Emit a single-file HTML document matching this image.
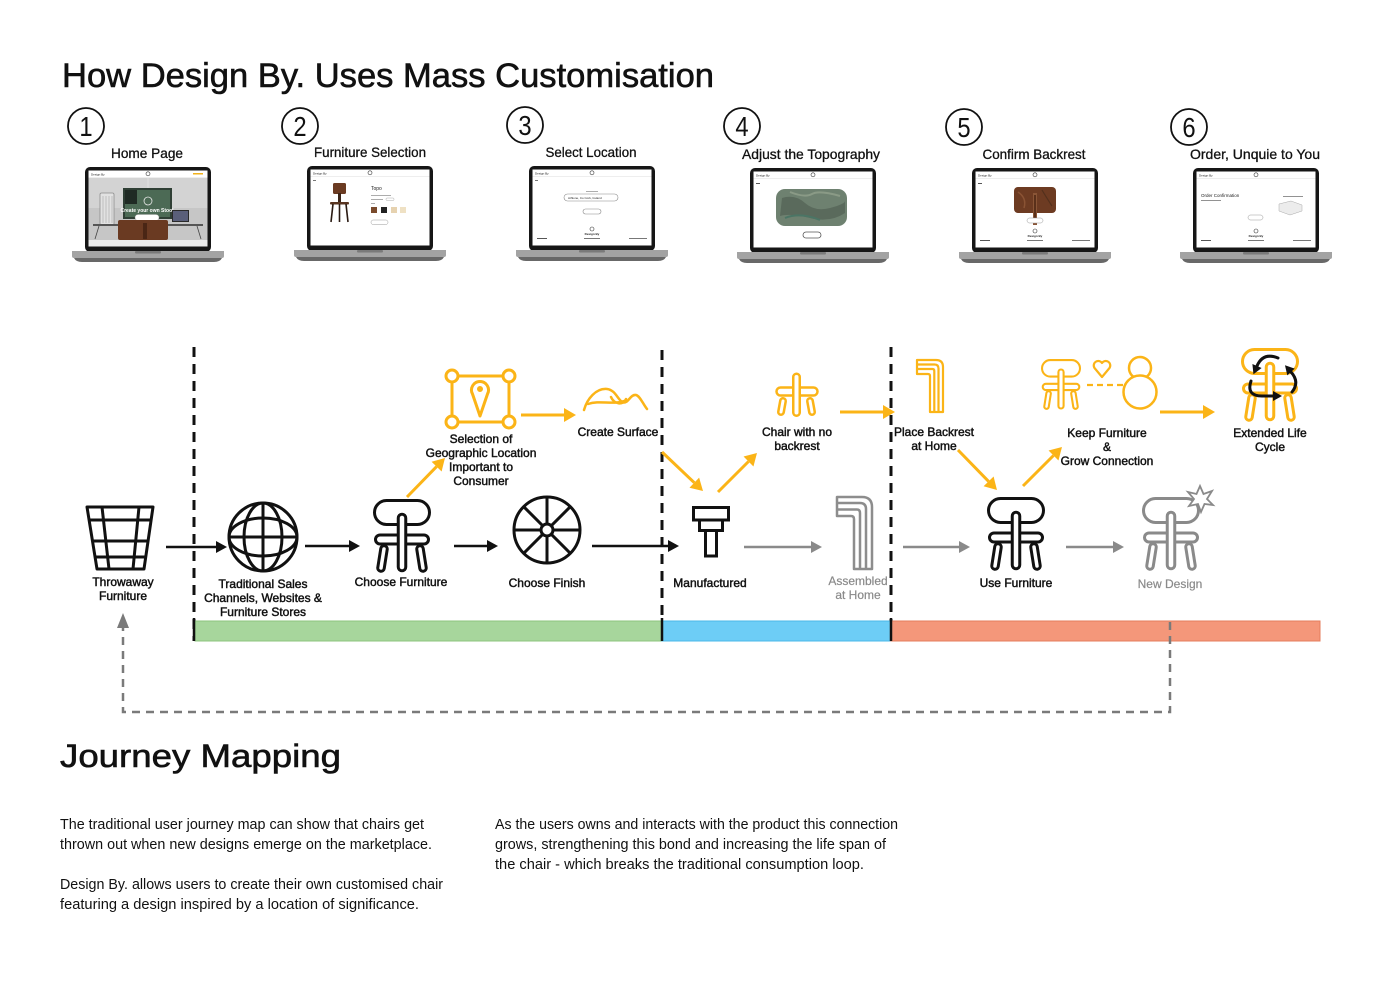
<!DOCTYPE html>
<html>
<head>
<meta charset="utf-8">
<style>
  html,body{margin:0;padding:0;background:#fff;}
  body{width:1400px;height:990px;overflow:hidden;}
  svg{display:block;}
  .t{font-family:"Liberation Sans",sans-serif;}
  .l{font-family:"Liberation Sans",sans-serif;font-size:12px;text-anchor:middle;fill:#111;stroke:#111;stroke-width:0.45px;}
  .g{fill:#8a8a8a;stroke:#8a8a8a;stroke-width:0.2px;}
  .p{font-family:"Liberation Sans",sans-serif;font-size:14.5px;fill:#111;}
  .s{font-family:"Liberation Sans",sans-serif;font-size:14px;text-anchor:middle;fill:#111;stroke:#111;stroke-width:0.3px;}
  .n{font-family:"Liberation Sans",sans-serif;font-size:28px;text-anchor:middle;fill:#111;}
  .tiny{font-family:"Liberation Sans",sans-serif;fill:#222;}
</style>
</head>
<body>
<svg width="1400" height="990" viewBox="0 0 1400 990" xmlns="http://www.w3.org/2000/svg">
<defs>
  <marker id="mk" markerWidth="12" markerHeight="12" refX="0" refY="6" orient="auto" markerUnits="userSpaceOnUse" overflow="visible">
    <path d="M0,0 L11,6 L0,12 Z" fill="#111"/>
  </marker>
  <marker id="mg" markerWidth="12" markerHeight="12" refX="0" refY="6" orient="auto" markerUnits="userSpaceOnUse" overflow="visible">
    <path d="M0,0 L11,6 L0,12 Z" fill="#8a8a8a"/>
  </marker>
  <marker id="my" markerWidth="14" markerHeight="14" refX="0" refY="7" orient="auto" markerUnits="userSpaceOnUse" overflow="visible">
    <path d="M0,0 L12,7 L0,14 Z" fill="#fbb417"/>
  </marker>
  <marker id="mr" markerWidth="10" markerHeight="10" refX="0" refY="5" orient="auto" markerUnits="userSpaceOnUse" overflow="visible">
    <path d="M0,0 L9,5 L0,10 Z" fill="#111"/>
  </marker>

  <g id="ch">
    <line x1="11" y1="50" x2="8" y2="69" stroke="currentColor" stroke-width="9.5" stroke-linecap="round"/>
    <line x1="11" y1="50" x2="8" y2="69" stroke="#fff" stroke-width="3.5" stroke-linecap="round"/>
    <line x1="47" y1="50" x2="50" y2="69" stroke="currentColor" stroke-width="9.5" stroke-linecap="round"/>
    <line x1="47" y1="50" x2="50" y2="69" stroke="#fff" stroke-width="3.5" stroke-linecap="round"/>
    <rect x="2.5" y="36" width="53" height="9" rx="4.5" fill="#fff" stroke="currentColor" stroke-width="3"/>
    <rect x="1.5" y="1.5" width="55" height="24" rx="12" fill="#fff" stroke="currentColor" stroke-width="3"/>
    <line x1="29" y1="19" x2="29" y2="68" stroke="currentColor" stroke-width="10.5" stroke-linecap="round"/>
    <line x1="29" y1="19" x2="29" y2="68" stroke="#fff" stroke-width="4.5" stroke-linecap="round"/>
  </g>

  <g id="lap">
    <rect x="0" y="0" width="126" height="85" rx="5" fill="#161616"/>
    <rect x="3.5" y="3.5" width="119" height="76" fill="#fff"/>
    <path d="M-13,84 H139 V89 Q139,91 137,91 H-11 Q-13,91 -13,89 Z" fill="#a3a3a3"/>
    <path d="M-11,91 H137 Q135,95 129,95 H-3 Q-9,95 -11,91 Z" fill="#686868"/>
    <rect x="50" y="84" width="26" height="2.5" rx="1" fill="#7a7a7a"/>
    <text class="tiny" x="6" y="8.5" font-size="3">Design By</text>
    <circle cx="63" cy="6.8" r="2" fill="none" stroke="#333" stroke-width="0.6"/>
    <line x1="3.5" y1="10.5" x2="122.5" y2="10.5" stroke="#ddd" stroke-width="0.6"/>
  </g>
  <g id="foot">
    <circle cx="63" cy="63" r="2" fill="none" stroke="#333" stroke-width="0.6"/>
    <text class="tiny" x="63" y="69" font-size="3" text-anchor="middle" font-weight="bold">Design By</text>
    <rect x="8" y="72" width="10" height="1" fill="#555"/>
    <rect x="55" y="72" width="16" height="1" fill="#777"/>
    <rect x="100" y="72" width="18" height="1" fill="#777"/>
  </g>
</defs>

<!-- Title -->
<text class="t" x="62" y="87" font-size="34" textLength="652" lengthAdjust="spacingAndGlyphs" fill="#111" stroke="#111" stroke-width="0.6">How Design By. Uses Mass Customisation</text>

<!-- Numbers -->
<g fill="none" stroke="#111" stroke-width="1.8">
  <circle cx="86" cy="126" r="18"/>
  <circle cx="300" cy="126" r="18"/>
  <circle cx="525" cy="125" r="18"/>
  <circle cx="742" cy="126" r="18"/>
  <circle cx="964" cy="127" r="18"/>
  <circle cx="1189" cy="127" r="18"/>
</g>
<g transform="translate(86,136) scale(0.85,1)"><text class="n" x="0" y="0">1</text></g>
<g transform="translate(300,136) scale(0.85,1)"><text class="n" x="0" y="0">2</text></g>
<g transform="translate(525,135) scale(0.85,1)"><text class="n" x="0" y="0">3</text></g>
<g transform="translate(742,136) scale(0.85,1)"><text class="n" x="0" y="0">4</text></g>
<g transform="translate(964,137) scale(0.85,1)"><text class="n" x="0" y="0">5</text></g>
<g transform="translate(1189,137) scale(0.85,1)"><text class="n" x="0" y="0">6</text></g>

<text class="s" x="147" y="158" textLength="72" lengthAdjust="spacingAndGlyphs">Home Page</text>
<text class="s" x="370" y="157" textLength="112" lengthAdjust="spacingAndGlyphs">Furniture Selection</text>
<text class="s" x="591" y="157" textLength="91" lengthAdjust="spacingAndGlyphs">Select Location</text>
<text class="s" x="811" y="159" textLength="138" lengthAdjust="spacingAndGlyphs">Adjust the Topography</text>
<text class="s" x="1034" y="159" textLength="103" lengthAdjust="spacingAndGlyphs">Confirm Backrest</text>
<text class="s" x="1255" y="159" textLength="130" lengthAdjust="spacingAndGlyphs">Order, Unquie to You</text>

<!-- Laptop 1 -->
<g transform="translate(85,167)">
  <use href="#lap"/>
  <rect x="3.5" y="11" width="119" height="62" fill="#c6c6c6"/>
  <rect x="3.5" y="11" width="119" height="30" fill="#d3d3d3"/>
  <line x1="63" y1="11" x2="63" y2="56" stroke="#e6e6e6" stroke-width="0.8"/>
  <rect x="15" y="26" width="14" height="32" rx="1.5" fill="#e2e2e2" stroke="#8d8d8d" stroke-width="0.8"/>
  <g stroke="#9a9a9a" stroke-width="0.5"><line x1="18" y1="29" x2="18" y2="56"/><line x1="21" y1="29" x2="21" y2="56"/><line x1="24" y1="29" x2="24" y2="56"/><line x1="27" y1="29" x2="27" y2="56"/></g>
  <rect x="38" y="21" width="49" height="31" fill="#2f3f35"/>
  <rect x="40" y="23" width="45" height="27" fill="#4c6a55"/>
  <rect x="40" y="23" width="12" height="14" fill="#1f2a24"/>
  <circle cx="63" cy="34" r="4" fill="none" stroke="#e8e8e8" stroke-width="0.8"/>
  <text class="tiny" x="62" y="45" font-size="5" text-anchor="middle" font-weight="bold" style="fill:#fff">Create your own Stool</text>
  <rect x="50" y="47.5" width="24" height="6" rx="3" fill="#fff" stroke="#999" stroke-width="0.4"/>
  <rect x="87" y="43" width="17" height="12" fill="#2a2a2a"/>
  <rect x="88" y="44" width="15" height="10" fill="#5a5f7a"/>
  <rect x="8" y="57" width="110" height="2" fill="#555"/>
  <line x1="14" y1="59" x2="10" y2="72" stroke="#444" stroke-width="0.8"/>
  <line x1="112" y1="59" x2="116" y2="72" stroke="#444" stroke-width="0.8"/>
  <rect x="33" y="53" width="50" height="20" rx="2" fill="#6a3a22"/>
  <rect x="58" y="56" width="4" height="16" fill="#4a2615"/>
  <rect x="3.5" y="73" width="119" height="6.5" fill="#ececec"/>
  <rect x="108" y="6" width="10" height="1.5" fill="#f2b21c"/>
</g>

<!-- Laptop 2 -->
<g transform="translate(307,166)">
  <use href="#lap"/>
  <rect x="6" y="14" width="3" height="1" fill="#777"/>
  <rect x="26" y="17" width="13" height="11" rx="1.5" fill="#6b3b22"/>
  <rect x="31" y="27" width="3" height="10" fill="#3a2418"/>
  <rect x="23" y="36" width="19" height="2.5" rx="1" fill="#5a3520"/>
  <line x1="26" y1="38" x2="24" y2="56" stroke="#2a1a12" stroke-width="1.6"/>
  <line x1="39" y1="38" x2="41" y2="56" stroke="#2a1a12" stroke-width="1.6"/>
  <line x1="32.5" y1="38" x2="32.5" y2="56" stroke="#2a1a12" stroke-width="1.6"/>
  <text class="tiny" x="64" y="24" font-size="5">Topo</text>
  <rect x="64" y="29" width="20" height="0.8" fill="#999"/>
  <rect x="64" y="33" width="12" height="0.8" fill="#999"/>
  <rect x="79" y="32" width="8" height="2.5" rx="1" fill="none" stroke="#999" stroke-width="0.4"/>
  <rect x="64" y="37" width="4" height="0.8" fill="#999"/>
  <rect x="64" y="41" width="6" height="6" fill="#7a4a2c"/>
  <rect x="74" y="41" width="6" height="6" fill="#222"/>
  <rect x="84" y="41" width="6" height="6" fill="#e6d2b0"/>
  <rect x="93" y="41" width="6" height="6" fill="#efe1c4"/>
  <rect x="64" y="54" width="17" height="4.5" rx="2.2" fill="#fff" stroke="#999" stroke-width="0.5"/>
</g>

<!-- Laptop 3 -->
<g transform="translate(529,166)">
  <use href="#lap"/>
  <rect x="6" y="14" width="3" height="1" fill="#777"/>
  <rect x="57" y="25" width="12" height="0.8" fill="#999"/>
  <rect x="35" y="28" width="54" height="7" rx="3.5" fill="#fff" stroke="#888" stroke-width="0.6"/>
  <text class="tiny" x="39" y="33" font-size="3">Athlone, Co Cork, Ireland</text>
  <rect x="54" y="43" width="18" height="5" rx="2.5" fill="#fff" stroke="#888" stroke-width="0.6"/>
  <use href="#foot"/>
</g>

<!-- Laptop 4 -->
<g transform="translate(750,168)">
  <use href="#lap"/>
  <rect x="6" y="15" width="4" height="1" fill="#555"/>
  <rect x="26" y="21" width="71" height="37" rx="9" fill="#6e8170"/>
  <path d="M32,30 Q45,26 55,35 T80,40 T95,33 V45 Q80,55 60,50 T30,48 Z" fill="#5a6a5c"/>
  <path d="M40,24 Q55,30 62,26 T90,28" stroke="#8a9a86" stroke-width="2" fill="none"/>
  <path d="M35,50 Q50,44 70,52" stroke="#4b7565" stroke-width="2" fill="none"/>
  <rect x="53" y="64" width="18" height="6" rx="3" fill="#fff" stroke="#555" stroke-width="0.8"/>
</g>

<!-- Laptop 5 -->
<g transform="translate(972,168)">
  <use href="#lap"/>
  <rect x="6" y="15" width="4" height="1" fill="#555"/>
  <rect x="42" y="19" width="42" height="26" rx="4" fill="#6d3b22"/>
  <path d="M46,24 Q55,30 52,40" stroke="#8a5334" stroke-width="1.5" fill="none"/>
  <path d="M70,22 Q76,32 80,38" stroke="#53301c" stroke-width="1.2" fill="none"/>
  <rect x="61" y="25" width="4" height="32" fill="#8a5536"/>
  <rect x="62" y="27" width="2" height="28" fill="#5a301a"/>
  <rect x="55" y="50" width="16" height="5" rx="2.5" fill="#fff" stroke="#999" stroke-width="0.5"/>
  <use href="#foot"/>
</g>

<!-- Laptop 6 -->
<g transform="translate(1193,168)">
  <use href="#lap"/>
  <text class="tiny" x="8" y="29" font-size="4.5">Order Confirmation</text>
  <rect x="8" y="32" width="20" height="0.8" fill="#777"/>
  <rect x="90" y="28" width="20" height="0.8" fill="#777"/>
  <path d="M86,36 L98,33 L109,37 L109,43 L97,47 L86,43 Z" fill="#ececec" stroke="#aaa" stroke-width="0.5"/>
  <rect x="55" y="47" width="15" height="5" rx="2.5" fill="#fff" stroke="#999" stroke-width="0.5"/>
  <use href="#foot"/>
</g>

<!-- Vertical dashed dividers -->
<g stroke="#111" stroke-width="3" stroke-dasharray="10 7">
  <line x1="194" y1="347" x2="194" y2="641"/>
  <line x1="662" y1="350" x2="662" y2="641"/>
  <line x1="891" y1="347" x2="891" y2="641"/>
</g>

<!-- Phase bar -->
<rect x="195" y="621" width="467" height="20" fill="#a7d69c" stroke="#8cc47e" stroke-width="1"/>
<rect x="662" y="621" width="229" height="20" fill="#6dcdf6" stroke="#4ab8e8" stroke-width="1"/>
<rect x="891" y="621" width="429" height="20" fill="#f4977a" stroke="#e57c5c" stroke-width="1"/>
<g stroke="#111" stroke-width="2.5">
  <line x1="194" y1="618" x2="194" y2="641"/>
  <line x1="662" y1="618" x2="662" y2="641"/>
  <line x1="891" y1="618" x2="891" y2="641"/>
</g>

<!-- Grey dashed loop -->
<path d="M1170,622 V712 H123 V628" fill="none" stroke="#7a7a7a" stroke-width="2.5" stroke-dasharray="8 6"/>
<polygon points="117,628 129,628 123,613" fill="#7a7a7a"/>

<!-- Throwaway basket -->
<g fill="none" stroke="#111" stroke-width="3" stroke-linejoin="round">
  <polygon points="87,507 153,507 144,569 97,569"/>
  <line x1="102" y1="507" x2="109" y2="569"/>
  <line x1="139" y1="507" x2="133" y2="569"/>
  <line x1="90" y1="520" x2="151" y2="520"/>
  <line x1="92" y1="541" x2="148" y2="541"/>
  <line x1="95" y1="557" x2="146" y2="557"/>
</g>
<text class="l" x="123" y="586">Throwaway</text>
<text class="l" x="123" y="600">Furniture</text>

<!-- Globe -->
<g fill="none" stroke="#111" stroke-width="3">
  <circle cx="263" cy="537" r="34"/>
  <ellipse cx="263" cy="537" rx="19" ry="34"/>
  <ellipse cx="263" cy="537" rx="34" ry="19"/>
  <line x1="263" y1="503" x2="263" y2="571"/>
  <line x1="229" y1="537" x2="297" y2="537"/>
</g>
<text class="l" x="263" y="588">Traditional Sales</text>
<text class="l" x="263" y="602">Channels, Websites &amp;</text>
<text class="l" x="263" y="616">Furniture Stores</text>

<!-- Choose furniture chair -->
<use href="#ch" x="373" y="499" style="color:#111"/>
<text class="l" x="401" y="586">Choose Furniture</text>

<!-- Wheel -->
<g fill="none" stroke="#111" stroke-width="3">
  <circle cx="547" cy="530" r="33"/>
  <line x1="547" y1="497" x2="547" y2="524"/>
  <line x1="547" y1="536" x2="547" y2="563"/>
  <line x1="514" y1="530" x2="541" y2="530"/>
  <line x1="553" y1="530" x2="580" y2="530"/>
  <line x1="523.7" y1="506.7" x2="542.8" y2="525.8"/>
  <line x1="551.2" y1="534.2" x2="570.3" y2="553.3"/>
  <line x1="570.3" y1="506.7" x2="551.2" y2="525.8"/>
  <line x1="542.8" y1="534.2" x2="523.7" y2="553.3"/>
  <circle cx="547" cy="530" r="6" fill="#fff"/>
</g>
<text class="l" x="547" y="587">Choose Finish</text>

<!-- Manufactured -->
<g fill="#fff" stroke="#111" stroke-width="3">
  <rect x="705.5" y="530" width="11" height="26"/>
  <rect x="699.5" y="519.5" width="23" height="11"/>
  <rect x="693.5" y="507.5" width="35" height="12.5"/>
</g>
<text class="l" x="710" y="587">Manufactured</text>

<!-- Assembled at home (grey L) -->
<g fill="none" stroke="#8d8d8d" stroke-width="2.5" stroke-linejoin="round">
  <path d="M837,497 H862 Q872,497 872,507 V569 H854 V519 Q854,516 851,516 H837 Z"/>
  <path d="M837,503 H860 Q866,503 866,509 V569"/>
  <path d="M837,509.5 H857 Q860,509.5 860,513 V569"/>
</g>
<text class="l g" x="858" y="585">Assembled</text>
<text class="l g" x="858" y="599">at Home</text>

<!-- Use furniture chair -->
<use href="#ch" x="987" y="497" style="color:#111"/>
<text class="l" x="1016" y="587">Use Furniture</text>

<!-- New design chair -->
<use href="#ch" x="1142" y="497" style="color:#8a8a8a"/>
<polygon points="1200,486 1203.5,494 1212,491 1207,499 1213,505 1204.5,504 1201,512 1198,504 1189,506 1194,499 1188,492 1196.5,494" fill="#fff" stroke="#8a8a8a" stroke-width="1.8" stroke-linejoin="miter"/>
<text class="l g" x="1170" y="588">New Design</text>

<!-- Location icon -->
<g fill="none" stroke="#fbb417" stroke-width="3">
  <rect x="452" y="376" width="57" height="46"/>
  <circle cx="452" cy="376" r="6" fill="#fff"/>
  <circle cx="509" cy="376" r="6" fill="#fff"/>
  <circle cx="452" cy="422" r="6" fill="#fff"/>
  <circle cx="509" cy="422" r="6" fill="#fff"/>
  <path d="M480,416 L472.5,394 A8.5,8.5 0 1 1 487.5,394 Z" stroke-linejoin="round"/>
  <circle cx="480" cy="389" r="1.5" fill="#fbb417"/>
</g>
<text class="l" x="481" y="443">Selection of</text>
<text class="l" x="481" y="457">Geographic Location</text>
<text class="l" x="481" y="471">Important to</text>
<text class="l" x="481" y="485">Consumer</text>

<!-- Create surface -->
<g fill="none" stroke="#fbb417" stroke-width="2.5" stroke-linecap="round" stroke-linejoin="round">
  <path d="M584,410 C587,399 596,388 607,389 C615,390 617,398 622,402 C628,405 630,394 636,395 C640,396 643,404 647,409"/>
  <path d="M588,404 C600,400 612,405 624,401"/>
  <path d="M611,397 C614,404 623,406 626,399"/>
</g>
<text class="l" x="618" y="436">Create Surface</text>

<!-- Stool (chair with no backrest) -->
<g>
  <line x1="783" y1="401" x2="781" y2="412" stroke="#fbb417" stroke-width="8" stroke-linecap="round"/>
  <line x1="783" y1="401" x2="781" y2="412" stroke="#fff" stroke-width="3" stroke-linecap="round"/>
  <line x1="810" y1="401" x2="812" y2="412" stroke="#fbb417" stroke-width="8" stroke-linecap="round"/>
  <line x1="810" y1="401" x2="812" y2="412" stroke="#fff" stroke-width="3" stroke-linecap="round"/>
  <rect x="776.5" y="387.5" width="41" height="8" rx="4" fill="#fff" stroke="#fbb417" stroke-width="2.5"/>
  <line x1="796.5" y1="377" x2="796.5" y2="412.5" stroke="#fbb417" stroke-width="9" stroke-linecap="round"/>
  <line x1="796.5" y1="377" x2="796.5" y2="412.5" stroke="#fff" stroke-width="4" stroke-linecap="round"/>
</g>
<text class="l" x="797" y="436">Chair with no</text>
<text class="l" x="797" y="450">backrest</text>

<!-- Place backrest (yellow L) -->
<g fill="none" stroke="#fbb417" stroke-width="2.2" stroke-linejoin="round">
  <path d="M917,360 H936 Q943,360 943,367 V412 H930 V376 Q930,374 928,374 H917 Z"/>
  <path d="M917,364.5 H934.5 Q938.5,364.5 938.5,368.5 V412"/>
  <path d="M917,369 H932.5 Q934.3,369 934.3,371 V412"/>
</g>
<text class="l" x="934" y="436">Place Backrest</text>
<text class="l" x="934" y="450">at Home</text>

<!-- Keep furniture icon -->
<use href="#ch" transform="translate(1041,359) scale(0.69)" style="color:#fbb417"/>
<path d="M1102,377 L1094.5,368 A4.3,4.3 0 0 1 1102,363 A4.3,4.3 0 0 1 1109.5,368 Z" fill="none" stroke="#fbb417" stroke-width="2.2" stroke-linejoin="round"/>
<line x1="1087" y1="385" x2="1123" y2="385" stroke="#fbb417" stroke-width="2.2" stroke-dasharray="6 4"/>
<circle cx="1140" cy="368" r="11" fill="none" stroke="#fbb417" stroke-width="2.5"/>
<circle cx="1140" cy="392" r="16.5" fill="#fff" stroke="#fbb417" stroke-width="2.5"/>
<text class="l" x="1107" y="437">Keep Furniture</text>
<text class="l" x="1107" y="451">&amp;</text>
<text class="l" x="1107" y="465">Grow Connection</text>

<!-- Extended life cycle -->
<use href="#ch" x="1241" y="348" style="color:#fbb417"/>
<g fill="none" stroke="#111" stroke-width="3" stroke-linecap="round">
  <path d="M1278,358 Q1263,352 1257,366" marker-end="url(#mr)"/>
  <path d="M1251,381 Q1246,396 1262,396 H1273" marker-end="url(#mr)"/>
  <path d="M1292,392 Q1300,382 1291,372" marker-end="url(#mr)"/>
</g>
<text class="l" x="1270" y="437">Extended Life</text>
<text class="l" x="1270" y="451">Cycle</text>

<!-- Black arrows -->
<g stroke="#111" stroke-width="2.5" fill="none">
  <line x1="166" y1="547" x2="216" y2="547" marker-end="url(#mk)"/>
  <line x1="305" y1="546" x2="349" y2="546" marker-end="url(#mk)"/>
  <line x1="454" y1="546" x2="487" y2="546" marker-end="url(#mk)"/>
  <line x1="592" y1="546" x2="668" y2="546" marker-end="url(#mk)"/>
</g>

<!-- Grey arrows -->
<g stroke="#8a8a8a" stroke-width="2.5" fill="none">
  <line x1="744" y1="547" x2="811" y2="547" marker-end="url(#mg)"/>
  <line x1="903" y1="547" x2="959" y2="547" marker-end="url(#mg)"/>
  <line x1="1066" y1="547" x2="1113" y2="547" marker-end="url(#mg)"/>
</g>

<!-- Yellow arrows -->
<g stroke="#fbb417" stroke-width="3" fill="none">
  <line x1="407" y1="497" x2="436.6" y2="466.6" marker-end="url(#my)"/>
  <line x1="521" y1="415" x2="564" y2="415" marker-end="url(#my)"/>
  <line x1="662" y1="452" x2="694.3" y2="482.7" marker-end="url(#my)"/>
  <line x1="718" y1="492" x2="748.5" y2="461.5" marker-end="url(#my)"/>
  <line x1="840" y1="412" x2="883" y2="412" marker-end="url(#my)"/>
  <line x1="958" y1="450" x2="988.6" y2="481.4" marker-end="url(#my)"/>
  <line x1="1023" y1="486" x2="1053.5" y2="455.5" marker-end="url(#my)"/>
  <line x1="1160" y1="412" x2="1203" y2="412" marker-end="url(#my)"/>
</g>

<!-- Journey Mapping -->
<text class="t" x="60" y="767" font-size="32" textLength="281" lengthAdjust="spacingAndGlyphs" fill="#111" stroke="#111" stroke-width="0.6">Journey Mapping</text>

<text class="p" x="60" y="829" textLength="364" lengthAdjust="spacingAndGlyphs">The traditional user journey map can show that chairs get</text>
<text class="p" x="60" y="849" textLength="372" lengthAdjust="spacingAndGlyphs">thrown out when new designs emerge on the marketplace.</text>
<text class="p" x="60" y="889" textLength="383" lengthAdjust="spacingAndGlyphs">Design By. allows users to create their own customised chair</text>
<text class="p" x="60" y="909" textLength="359" lengthAdjust="spacingAndGlyphs">featuring a design inspired by a location of significance.</text>

<text class="p" x="495" y="829" textLength="403" lengthAdjust="spacingAndGlyphs">As the users owns and interacts with the product this connection</text>
<text class="p" x="495" y="849" textLength="391" lengthAdjust="spacingAndGlyphs">grows, strengthening this bond and increasing the life span of</text>
<text class="p" x="495" y="869" textLength="369" lengthAdjust="spacingAndGlyphs">the chair  - which breaks the traditional consumption loop.</text>
</svg>
</body>
</html>
